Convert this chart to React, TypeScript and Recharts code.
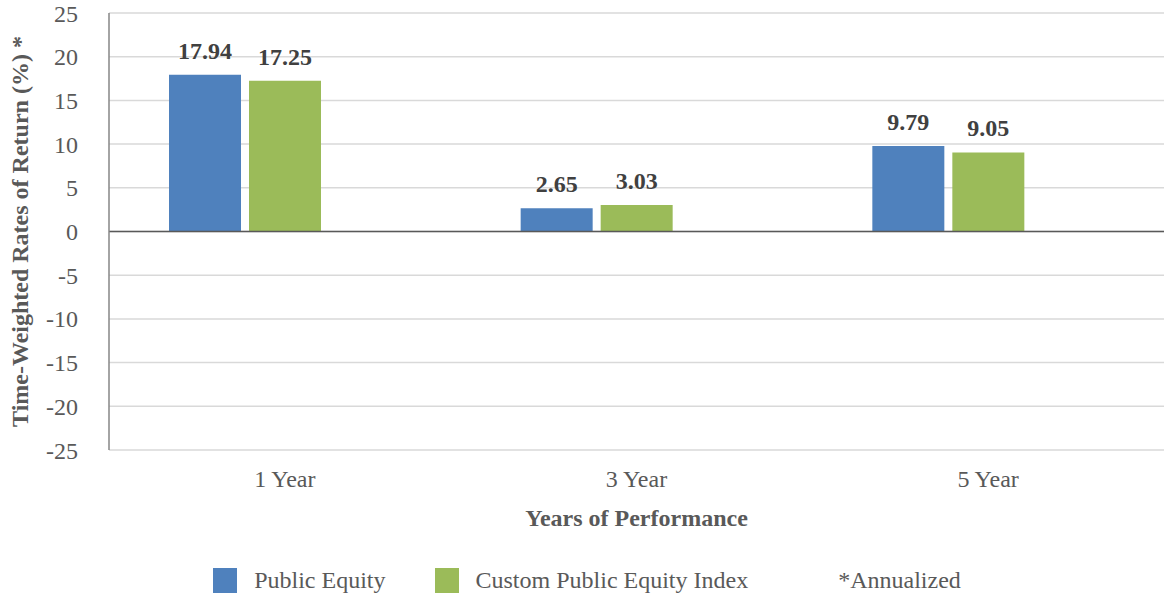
import React from "react"
import { BarChart, Bar, XAxis, YAxis, CartesianGrid, ReferenceLine, Legend, LabelList } from "recharts"

const categories = ["1 Year", "3 Year", "5 Year"]
const publicEquity = [17.94, 2.65, 9.79]
const customIndex = [17.25, 3.03, 9.05]
const yTicks = [25, 20, 15, 10, 5, 0, -5, -10, -15, -20, -25]
const seriesNames = ["Public Equity", "Custom Public Equity Index", "*Annualized"]
const seriesColors = ["#4f81bd", "#9bbb59", "none"]

const data = categories.map((name, i) => ({
  name,
  publicEquity: publicEquity[i],
  customIndex: customIndex[i],
  annualized: null,
}))

const FONT = '"Liberation Serif", "Times New Roman", serif'

function LegendContent() {
  return (
    <div
      style={{
        display: "flex",
        justifyContent: "center",
        alignItems: "center",
        height: 48,
        paddingTop: 12,
        paddingLeft: 10,
        boxSizing: "border-box",
        fontFamily: FONT,
        fontSize: 24,
        color: "#595959",
      }}
    >
      {seriesNames.map((n, i) => (
        <div key={n} style={{ display: "flex", alignItems: "center", marginLeft: i === 0 ? 0 : 49 }}>
          <span
            style={{
              display: "inline-block",
              width: 24,
              height: 25,
              background: seriesColors[i] === "none" ? "transparent" : seriesColors[i],
              marginRight: 17,
            }}
          />
          <span>{n}</span>
        </div>
      ))}
    </div>
  )
}

export default function App() {
  return (
    <div style={{ position: "absolute", left: 0, top: 0, background: "#fff" }}>
      <BarChart
        width={1164}
        height={598}
        data={data}
        margin={{ top: 13, right: 0, bottom: 0, left: 0 }}
        barSize={72}
        barGap={8}
      >
        <CartesianGrid vertical={false} stroke="#d9d9d9" strokeWidth={1.5} />
        <XAxis
          dataKey="name"
          height={100}
          axisLine={false}
          tickLine={false}
          tickSize={0}
          tickMargin={20}
          tick={{ fill: "#595959", fontSize: 24, fontFamily: FONT }}
          label={(props: any) => {
            const vb = props.viewBox || {}
            return (
              <text
                x={vb.x + vb.width / 2}
                y={vb.y + 76}
                textAnchor="middle"
                fill="#595959"
                fontSize={24}
                fontWeight="bold"
                fontFamily={FONT}
              >
                Years of Performance
              </text>
            )
          }}
        />
        <YAxis
          width={109}
          domain={[-25, 25]}
          ticks={yTicks}
          interval={0}
          axisLine={{ stroke: "#868686", strokeWidth: 1.5 }}
          tickLine={false}
          tickSize={0}
          tickMargin={31}
          tick={{ fill: "#595959", fontSize: 24, fontFamily: FONT }}
          label={(props: any) => {
            const vb = props.viewBox || {}
            const cy = vb.y + vb.height / 2
            return (
              <text
                x={28}
                y={cy}
                transform={`rotate(-90, 28, ${cy})`}
                textAnchor="middle"
                fill="#595959"
                fontSize={24}
                fontWeight="bold"
                fontFamily={FONT}
              >
                Time-Weighted Rates of Return (%) *
              </text>
            )
          }}
        />
        <ReferenceLine y={0} stroke="#595959" strokeWidth={1.5} />
        <Legend verticalAlign="bottom" content={<LegendContent />} />
        <Bar dataKey="publicEquity" name="Public Equity" fill="#4f81bd" isAnimationActive={false}>
          <LabelList
            dataKey="publicEquity"
            position="top"
            offset={16}
            fill="#404040"
            fontSize={24}
            fontWeight="bold"
            fontFamily={FONT}
          />
        </Bar>
        <Bar dataKey="customIndex" name="Custom Public Equity Index" fill="#9bbb59" isAnimationActive={false}>
          <LabelList
            dataKey="customIndex"
            position="top"
            offset={16}
            fill="#404040"
            fontSize={24}
            fontWeight="bold"
            fontFamily={FONT}
          />
        </Bar>
        <Bar dataKey="annualized" name="*Annualized" fill="none" isAnimationActive={false} />
      </BarChart>
    </div>
  )
}
